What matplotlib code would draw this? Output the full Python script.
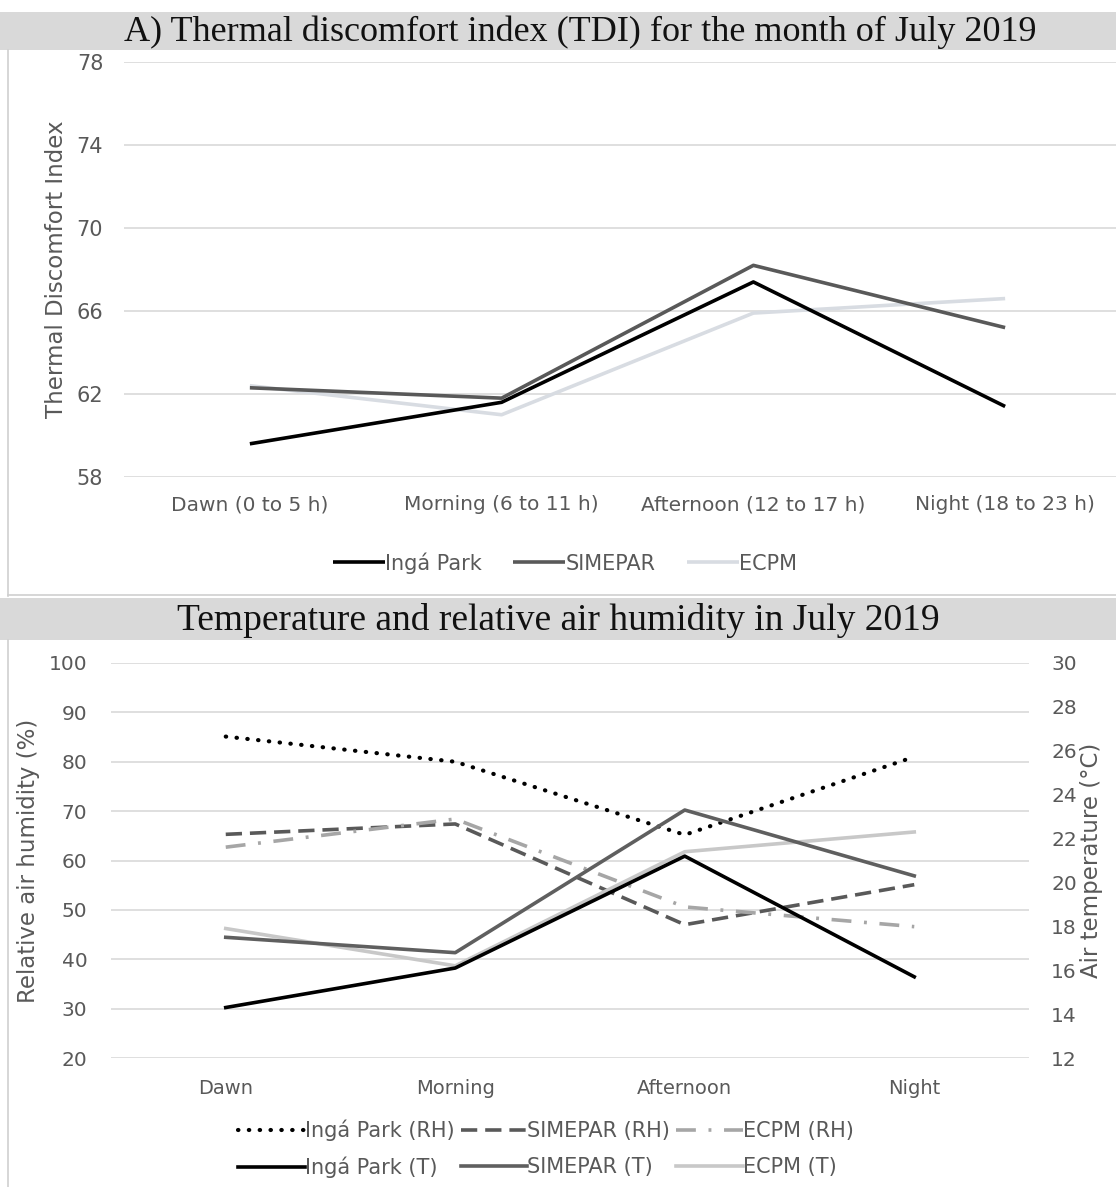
import matplotlib
matplotlib.use("Agg")
import matplotlib.pyplot as plt
from matplotlib.patches import Rectangle
from matplotlib.lines import Line2D

# ---- data ----
periods_tdi = ["Dawn (0 to 5 h)", "Morning (6 to 11 h)", "Afternoon (12 to 17 h)", "Night (18 to 23 h)"]
tdi_inga = [59.6, 61.6, 67.4, 61.4]
tdi_simepar = [62.3, 61.8, 68.2, 65.2]
tdi_ecpm = [62.4, 61.0, 65.9, 66.6]

periods = ["Dawn", "Morning", "Afternoon", "Night"]
rh_inga = [85.1, 80.0, 65.2, 81.0]
rh_simepar = [65.3, 67.4, 47.0, 55.1]
rh_ecpm = [62.7, 68.4, 50.6, 46.6]
t_inga = [14.3, 16.1, 21.2, 15.7]
t_simepar = [17.5, 16.8, 23.3, 20.3]
t_ecpm = [17.9, 16.2, 21.4, 22.3]

W, H = 1116, 1187
fig = plt.figure(figsize=(W / 100, H / 100), dpi=100)

tick_col = "#595959"
grid_col = "#d9d9d9"
narrow = ["Liberation Sans Narrow", "DejaVu Sans"]


def fy(px):
    return 1 - px / H


def fx(px):
    return px / W


# title bars and frame
fig.patches.append(Rectangle((0, fy(50)), 1, fy(12) - fy(50), transform=fig.transFigure,
                             facecolor="#d9d9d9", edgecolor="none", zorder=0))
fig.patches.append(Rectangle((0, fy(640)), 1, fy(598) - fy(640), transform=fig.transFigure,
                             facecolor="#d9d9d9", edgecolor="none", zorder=0))
for seg in [((fx(8), fx(8)), (fy(50), fy(596))), ((fx(8), fx(8)), (fy(640), 0)),
            ((fx(8), 1), (fy(595), fy(595)))]:
    fig.lines.append(Line2D(seg[0], seg[1], transform=fig.transFigure, color="#cfcfcf", lw=1.2))

fig.text(0.52, fy(32), "A) Thermal discomfort index (TDI) for the month of July 2019",
         ha="center", va="center", fontsize=26, family="Liberation Serif", color="#111111")
fig.text(0.5, fy(621), "Temperature and relative air humidity in July 2019",
         ha="center", va="center", fontsize=27, family="Liberation Serif", color="#111111")


def style_axis(ax):
    for s in ax.spines.values():
        s.set_visible(False)
    ax.grid(axis="y", color=grid_col, lw=1.2)
    ax.set_axisbelow(True)
    ax.tick_params(length=0, colors=tick_col)


# ---- top chart: TDI ----
ax1 = fig.add_axes([fx(124), fy(477), fx(1131) - fx(124), fy(62) - fy(477)])
x = range(len(periods_tdi))
ax1.plot(x, tdi_ecpm, color="#d8dce2", lw=2.6, label="ECPM", solid_capstyle="butt")
ax1.plot(x, tdi_simepar, color="#595959", lw=2.6, label="SIMEPAR", solid_capstyle="butt")
ax1.plot(x, tdi_inga, color="#000000", lw=2.6, label="Ingá Park", solid_capstyle="butt")
ax1.set_xlim(-0.5, 3.5)
ax1.set_ylim(58, 78)
ax1.set_yticks(range(58, 79, 4))
ax1.set_xticks(list(x))
ax1.set_xticklabels(periods_tdi, family=narrow, fontsize=14.5)
ax1.tick_params(axis="x", pad=13)
ax1.tick_params(axis="y", pad=15, labelsize=15)
style_axis(ax1)
ax1.set_ylabel("Thermal Discomfort Index", fontsize=16.5, color=tick_col, labelpad=6)
h, l = ax1.get_legend_handles_labels()
fig.legend(h[::-1], l[::-1], loc="center", bbox_to_anchor=(fx(565), fy(563)), ncol=3,
           frameon=False, prop={"family": narrow, "size": 15}, labelcolor=tick_col,
           handlelength=2.5, handletextpad=0.0, columnspacing=1.5)

# ---- bottom chart: RH and temperature ----
ax2 = fig.add_axes([fx(111), fy(1058), fx(1029) - fx(111), fy(663) - fy(1058)])
ax3 = ax2.twinx()
x = range(len(periods))
l_rh_inga, = ax2.plot(x, rh_inga, color="#000000", lw=3.0, ls=(0, (0.1, 2.5)),
                      dash_capstyle="round", label="Ingá Park (RH)")
l_rh_sim, = ax2.plot(x, rh_simepar, color="#595959", lw=2.6, ls=(0, (4.5, 2.2)),
                     label="SIMEPAR (RH)")
l_rh_ecpm, = ax2.plot(x, rh_ecpm, color="#a6a6a6", lw=2.6, ls=(0, (5.5, 3.5, 0.8, 3.5)),
                      label="ECPM (RH)")
l_t_ecpm, = ax3.plot(x, t_ecpm, color="#c8c8c8", lw=2.6, label="ECPM (T)")
l_t_sim, = ax3.plot(x, t_simepar, color="#5f5f5f", lw=2.6, label="SIMEPAR (T)")
l_t_inga, = ax3.plot(x, t_inga, color="#000000", lw=2.6, label="Ingá Park (T)")

ax2.set_xlim(-0.5, 3.5)
ax2.set_ylim(20, 100)
ax2.set_yticks(range(20, 101, 10))
ax3.set_ylim(12, 30)
ax3.set_yticks(range(12, 31, 2))
ax2.set_xticks(list(x))
ax2.set_xticklabels(periods, family=narrow, fontsize=14)
ax2.tick_params(axis="x", pad=15)
ax2.tick_params(axis="y", pad=17, labelsize=14.5)
style_axis(ax2)
for s in ax3.spines.values():
    s.set_visible(False)
ax3.tick_params(length=0, colors=tick_col, pad=16, labelsize=14.5)
ax2.set_ylabel("Relative air humidity (%)", fontsize=16.5, color=tick_col, labelpad=6)
ax3.set_ylabel("Air temperature (°C)", fontsize=16.5, color=tick_col, labelpad=2)

handles = [l_rh_inga, l_t_inga, l_rh_sim, l_t_sim, l_rh_ecpm, l_t_ecpm]
fig.legend(handles, [hh.get_label() for hh in handles], loc="center",
           bbox_to_anchor=(fx(546), fy(1149)), ncol=3, frameon=False,
           prop={"family": narrow, "size": 15}, labelcolor=tick_col,
           handlelength=3.2, handletextpad=0.0, columnspacing=0.3, labelspacing=0.75)

fig.savefig("out.png", dpi=100)
